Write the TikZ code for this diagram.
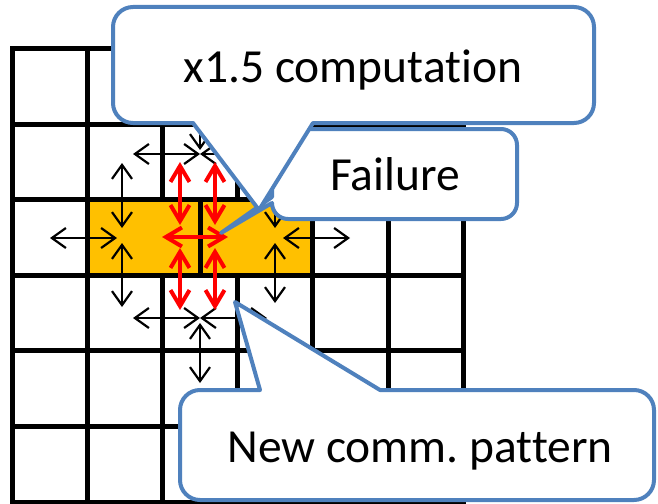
\documentclass[tikz,border=0pt]{standalone}
\usepackage{fontspec}
\setmainfont{Carlito}[Ligatures={NoCommon}]
\usetikzlibrary{arrows.meta}
\definecolor{calloutblue}{RGB}{79,129,189}
\definecolor{amber}{RGB}{255,192,0}
\frenchspacing
\begin{document}
\begin{tikzpicture}[x=1pt,y=-1pt,
  gridline/.style={line width=5pt, line cap=rect},
  comm/.style={line width=2.2pt, {Straight Barb[length=14pt,width=20pt]}-{Straight Barb[length=14pt,width=20pt]}},
  redcomm/.style={red, line width=4pt, {Straight Barb[length=16pt,width=19pt]}-{Straight Barb[length=16pt,width=19pt]}},
  callout/.style={draw=calloutblue, line width=4pt, fill=white, line join=round},
  calltext/.style={font=\fontsize{47.5}{56}\selectfont, anchor=base, inner sep=0pt}]
\useasboundingbox (0,0) rectangle (658,503);

% 6 x 6 process grid
\foreach \i in {0,...,6} {
  \draw[gridline] (12+75.2*\i,48.5) -- (12+75.2*\i,502.1);
  \draw[gridline] (12,48.5+75.6*\i) -- (463.2,48.5+75.6*\i);
}

% the two processes that take over the failed one (1.5 cells each)
\fill[amber] (87.2,199.7) rectangle (312.8,275.3);
\draw[gridline] (87.2,199.7) rectangle (312.8,275.3);
\draw[gridline] (200,199.7) -- (200,275.3);

% end points of the halo exchanges
\coordinate (tw) at (133,154);  \coordinate (tc) at (200,154);  \coordinate (te) at (267,154);
\coordinate (tn) at (200,92);   \coordinate (tcn) at (200,150);
\coordinate (ln) at (122,163);  \coordinate (lcn) at (122,228);
\coordinate (lcs) at (122,243); \coordinate (ls) at (122,307);
\coordinate (lw) at (50,238);   \coordinate (lcw) at (117,238);
\coordinate (rn) at (275,163);  \coordinate (rcn) at (275,228);
\coordinate (rcs) at (275,243); \coordinate (rs) at (275,303);
\coordinate (rce) at (283,238); \coordinate (re) at (350,238);
\coordinate (bw) at (133,318);  \coordinate (bc) at (200,318);  \coordinate (be) at (267,318);
\coordinate (bcs) at (200,323); \coordinate (bs) at (200,383);

% red: traffic of the failed process
\coordinate (r1n) at (180,162); \coordinate (r1m) at (180,225);
\coordinate (r2n) at (215,162); \coordinate (r2m) at (215,225);
\coordinate (r1o) at (180,248); \coordinate (r1s) at (180,310);
\coordinate (r2o) at (215,248); \coordinate (r2s) at (215,310);
\coordinate (rhw) at (162,237); \coordinate (rhe) at (228,237);

% black exchanges
\draw[comm] (tw) -- (tc);
\draw[comm] (te) -- (tc);
\draw[comm] (tn) -- (tcn);
\draw[comm] (ln) -- (lcn);
\draw[comm] (lcs) -- (ls);
\draw[comm] (lw) -- (lcw);
\draw[comm] (rn) -- (rcn);
\draw[comm] (rcs) -- (rs);
\draw[comm] (rce) -- (re);
\draw[comm] (bw) -- (bc);
\draw[comm] (be) -- (bc);
\draw[comm] (bcs) -- (bs);

% red exchanges
\draw[redcomm] (r1n) -- (r1m);
\draw[redcomm] (r2n) -- (r2m);
\draw[redcomm] (r1o) -- (r1s);
\draw[redcomm] (r2o) -- (r2s);
\draw[redcomm] (rhw) -- (rhe);

% callout "Failure"
\draw[callout] (288,129) -- (501,129) arc[start angle=270,end angle=360,radius=16]
  -- (517,203) arc[start angle=0,end angle=90,radius=16]
  -- (288,219) arc[start angle=90,end angle=180,radius=16]
  -- (221,233) -- (272,197)
  -- (272,145) arc[start angle=180,end angle=270,radius=16] -- cycle;
\node[calltext] (failure) at (395,190) {Failure};

% callout "x1.5 computation"
\draw[callout] (133,7) -- (574,7) arc[start angle=270,end angle=360,radius=20]
  -- (594,103) arc[start angle=0,end angle=90,radius=20]
  -- (313,123) -- (259,210) -- (193,123)
  -- (133,123) arc[start angle=90,end angle=180,radius=20]
  -- (113,27) arc[start angle=180,end angle=270,radius=20] -- cycle;
\node[calltext] (computation) at (353,82) {x1.5 computation};

% callout "New comm. pattern"
\draw[callout] (200,390) -- (260,390) -- (235,302) -- (380,390)
  -- (634,390) arc[start angle=270,end angle=360,radius=20]
  -- (654,480) arc[start angle=0,end angle=90,radius=20]
  -- (200,500) arc[start angle=90,end angle=180,radius=20]
  -- (180,410) arc[start angle=180,end angle=270,radius=20] -- cycle;
\node[calltext] (pattern) at (420,462) {New comm. pattern};
\end{tikzpicture}
\end{document}
